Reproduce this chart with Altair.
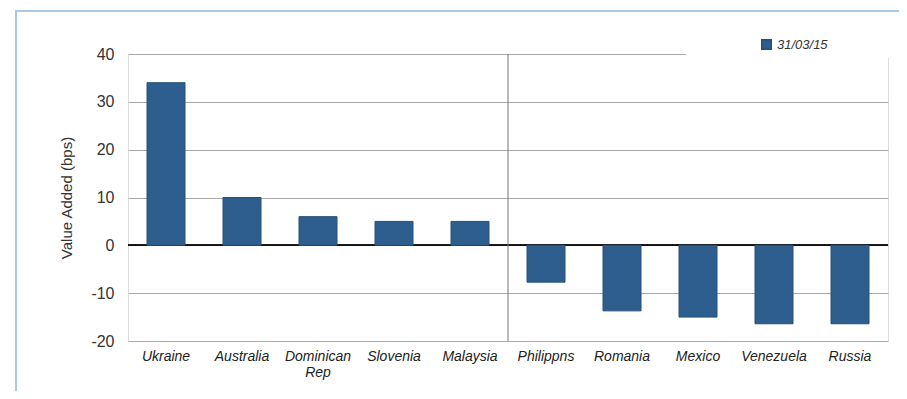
import altair as alt
import pandas as pd

countries = ["Ukraine", "Australia", "Dominican Rep", "Slovenia", "Malaysia",
             "Philippns", "Romania", "Mexico", "Venezuela", "Russia"]
values = [34, 10, 6, 5, 5, -7.7, -13.7, -15, -16.4, -16.4]
series = "31/03/15"
y_ticks = [-20, -10, 0, 10, 20, 30, 40]

df = pd.DataFrame({"country": countries, "value": values, "series": series})

W, H = 760, 287
FONT = "Liberation Sans Narrow, Liberation Sans, Arial"

xenc = alt.X("country:N", sort=countries,
             scale=alt.Scale(paddingInner=0.5, paddingOuter=0.25),
             axis=alt.Axis(title=None, labelAngle=0, labelFontStyle="italic",
                           labelFont=FONT, labelFontSize=14, labelColor="#222",
                           ticks=False, domain=False, labelPadding=8,
                           labelLineHeight=16,
                           labelExpr="datum.label == 'Dominican Rep' ? ['Dominican', 'Rep'] : datum.label"))
yscale = alt.Scale(domain=[-20, 40], nice=False)
yenc = alt.Y("value:Q", scale=yscale,
             axis=alt.Axis(title="Value Added (bps)", values=y_ticks, grid=True,
                           gridColor="#aaaaaa", gridWidth=1, domain=False, ticks=False,
                           labelExpr="toString(datum.value)",
                           labelFont="Liberation Sans, Arial", labelFontSize=16,
                           labelColor="#333", labelPadding=14,
                           titleFont="Liberation Sans, Arial", titleFontSize=15,
                           titleFontWeight="normal", titleColor="#333", titlePadding=16))

frame = alt.Chart(df).mark_rect(fill=None, stroke="#a9c9e6", strokeWidth=2).encode(
    x=alt.value(-112), x2=alt.value(779), y=alt.value(-43), y2=alt.value(400))

bars = alt.Chart(df).mark_bar(stroke="#264f78", strokeWidth=1).encode(
    x=xenc, y=yenc,
    color=alt.Color("series:N", scale=alt.Scale(range=["#2d5e8e"]),
                    legend=alt.Legend(title=None, orient="none", legendX=632, legendY=-16,
                                      symbolType="square", symbolSize=90,
                                      labelFontStyle="italic", labelFont="Liberation Sans, Arial",
                                      labelFontSize=13, labelColor="#333")))

cover = alt.Chart(df).mark_rect(color="white").encode(
    x=alt.value(558), x2=alt.value(765), y=alt.value(-4), y2=alt.value(4))

zero = alt.Chart(df).mark_rule(color="#111", strokeWidth=1.2).encode(
    y=alt.datum(0, scale=yscale))

divider = alt.Chart(df).transform_filter(alt.datum.country == "Philippns").mark_rule(
    color="#777", strokeWidth=1, xOffset=-19).encode(
    x=alt.X("country:N", sort=countries, bandPosition=0), y=alt.value(0), y2=alt.value(H))

chart = alt.layer(frame, cover, zero, bars, divider).properties(
    width=W, height=H, padding={"left": 120, "top": 46, "right": 11, "bottom": 50},
    autosize=alt.AutoSizeParams(type="none"),
).configure_view(stroke=None).configure(background="white")

chart.save("out.html", embed_options={"renderer": "svg", "actions": False})
